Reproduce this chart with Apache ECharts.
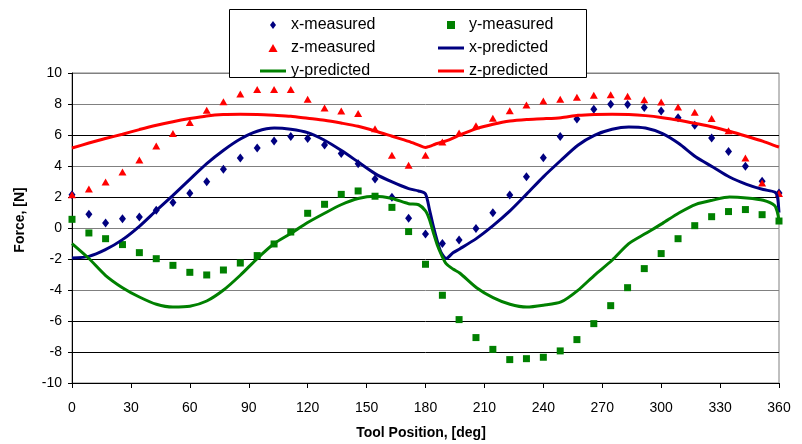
<!DOCTYPE html>
<html>
<head>
<meta charset="utf-8">
<script src="https://cdn.jsdelivr.net/npm/echarts@6/dist/echarts.min.js"></script>
<style>html,body{margin:0;padding:0;background:#fff}#c{width:802px;height:444px}</style>
</head>
<body>
<div id="c"></div>
<script>
// ---- data ----
var measAngles = [0, 8.6, 17.1, 25.7, 34.3, 42.9, 51.4, 60, 68.6, 77.1, 85.7, 94.3, 102.9, 111.4, 120, 128.6, 137.1, 145.7, 154.3, 162.9, 171.4, 180, 188.6, 197.1, 205.7, 214.3, 222.9, 231.4, 240, 248.6, 257.1, 265.7, 274.3, 282.9, 291.4, 300, 308.6, 317.1, 325.7, 334.3, 342.9, 351.4, 360];
var xMeasured = [2.15, 0.88, 0.32, 0.6, 0.71, 1.14, 1.64, 2.24, 2.99, 3.79, 4.52, 5.16, 5.61, 5.9, 5.78, 5.36, 4.8, 4.15, 3.16, 1.98, 0.63, -0.39, -1.0, -0.77, -0.04, 0.98, 2.13, 3.31, 4.54, 5.9, 7.03, 7.66, 7.98, 7.96, 7.77, 7.55, 7.12, 6.63, 5.81, 4.93, 3.98, 3.01, 2.26];
var yMeasured = [0.56, -0.32, -0.69, -1.07, -1.59, -1.98, -2.41, -2.86, -3.03, -2.71, -2.26, -1.78, -1.03, -0.26, 0.95, 1.53, 2.17, 2.39, 2.05, 1.33, -0.23, -2.34, -4.34, -5.91, -7.07, -7.83, -8.49, -8.43, -8.34, -7.93, -7.2, -6.17, -5.01, -3.85, -2.62, -1.65, -0.69, 0.15, 0.73, 1.06, 1.19, 0.86, 0.45];
var zMeasured = [2.15, 2.52, 2.97, 3.61, 4.39, 5.29, 6.09, 6.8, 7.59, 8.15, 8.65, 8.93, 8.93, 8.93, 8.3, 7.74, 7.55, 7.38, 6.41, 4.69, 4.05, 4.69, 5.55, 6.13, 6.6, 7.08, 7.57, 7.94, 8.19, 8.3, 8.43, 8.56, 8.6, 8.5, 8.28, 8.13, 7.81, 7.46, 7.06, 6.28, 4.52, 2.9, 2.22];

var predAngles = [0, 8.6, 17, 25.7, 34.3, 43, 51.4, 60, 68.6, 77, 85.7, 94.3, 103, 111.4, 120, 128.6, 137, 145.7, 154.3, 163, 171.4, 176.5, 180, 182, 184, 186, 188, 190.5, 194, 197.4, 206, 214.4, 223, 231.6, 240, 249, 257.6, 266, 275, 283.5, 292, 300.7, 309, 317.7, 326.3, 334.8, 343.5, 352, 357.8, 359.2, 360];
var xPredicted = [-1.94, -1.83, -1.4, -0.75, 0.11, 1.14, 2.11, 3.14, 4.15, 5.0, 5.74, 6.24, 6.45, 6.37, 6.15, 5.66, 5.01, 4.26, 3.51, 2.97, 2.54, 2.39, 2.2, 1.2, 0.1, -0.85, -1.6, -1.97, -1.6, -1.35, -0.67, 0.15, 1.1, 2.2, 3.3, 4.37, 5.34, 5.98, 6.37, 6.52, 6.45, 6.09, 5.45, 4.58, 3.94, 3.29, 2.82, 2.48, 2.32, 2.0, 1.0];
var yPredicted = [-1.01, -1.97, -3.05, -3.85, -4.45, -4.92, -5.1, -5.05, -4.71, -4.02, -3.05, -1.97, -1.0, -0.35, 0.35, 0.95, 1.5, 1.9, 2.05, 1.9, 1.57, 1.5, 1.1, 0.55, -0.3, -1.1, -1.7, -2.3, -2.65, -2.9, -3.85, -4.49, -4.92, -5.1, -4.98, -4.77, -4.02, -3.05, -2.08, -1.01, -0.36, 0.3, 0.97, 1.53, 1.8, 2.0, 1.94, 1.79, 1.45, 1.0, 0.5];
var zPredicted = [5.16, 5.48, 5.77, 6.05, 6.35, 6.63, 6.86, 7.06, 7.23, 7.32, 7.34, 7.32, 7.27, 7.21, 7.08, 6.95, 6.77, 6.56, 6.26, 5.92, 5.59, 5.35, 5.19, 5.27, 5.36, 5.45, 5.53, 5.62, 5.8, 6.0, 6.41, 6.69, 6.9, 7.0, 7.05, 7.12, 7.27, 7.33, 7.34, 7.32, 7.25, 7.12, 6.95, 6.74, 6.52, 6.24, 5.92, 5.59, 5.32, 5.26, 5.23];

var xTicks = {min: 0, max: 360, interval: 30};
var yTicks = {min: -10, max: 10, interval: 2};

function pairs(xs, ys) { return xs.map(function (x, i) { return [x, ys[i]]; }); }

var FONT = 'Liberation Sans, Arial, sans-serif';
var chart = echarts.init(document.getElementById('c'), null, {renderer: 'canvas'});

var gridColors = ['#000', '#000', '#000', '#808080', '#000', '#808080', '#000', '#808080', '#000', '#808080', '#808080'];

var ICON_DIAMOND = 'path://M3,0 L6,4 L3,8 L0,4 Z';
var ICON_SQUARE = 'path://M0,0 L7,0 L7,7 L0,7 Z';
var ICON_TRIANGLE = 'path://M4,0 L8,7 L0,7 Z';
var ICON_LINE = 'path://M0,0 L26,0 L26,3 L0,3 Z';

var legendText = {fontFamily: FONT, fontSize: 16, color: '#000', lineHeight: 18};

chart.setOption({
  animation: false,
  backgroundColor: '#fff',
  textStyle: {fontFamily: FONT},
  grid: {left: 72, right: 23, top: 73, bottom: 61, containLabel: false, outerBoundsMode: 'none', show: true, borderColor: '#808080', borderWidth: 1, backgroundColor: 'transparent'},
  xAxis: {
    type: 'value', min: xTicks.min, max: xTicks.max, interval: xTicks.interval,
    name: 'Tool Position, [deg]', nameLocation: 'middle', nameGap: 43,
    nameTextStyle: {fontFamily: FONT, fontWeight: 'bold', fontSize: 14, color: '#000', padding: [0, 9, 0, 0]},
    axisLine: {show: true, onZero: false, lineStyle: {color: '#000', width: 1}},
    axisTick: {show: true, inside: false, length: 5, lineStyle: {color: '#000'}},
    axisLabel: {fontFamily: FONT, fontSize: 14, color: '#000', margin: 18},
    splitLine: {show: false}
  },
  yAxis: {
    type: 'value', min: yTicks.min, max: yTicks.max, interval: yTicks.interval,
    name: 'Force, [N]', nameLocation: 'middle', nameGap: 45,
    nameTextStyle: {fontFamily: FONT, fontWeight: 'bold', fontSize: 14, color: '#000', padding: [0, 0, 0, 16]},
    axisLine: {show: true, onZero: false, lineStyle: {color: '#000', width: 1}},
    axisTick: {show: true, inside: false, length: 4, lineStyle: {color: '#000'}},
    axisLabel: {fontFamily: FONT, fontSize: 14, color: '#000', margin: 10},
    splitLine: {show: true, lineStyle: {color: gridColors, width: 1}}
  },
  graphic: [{
    type: 'rect', z: 3,
    shape: {x: 229.5, y: 9.5, width: 357, height: 68},
    style: {fill: '#fff', stroke: '#000', lineWidth: 1}
  }],
  legend: [{
    orient: 'vertical', left: 260, top: 16, padding: 0, itemGap: 5, itemWidth: 26, itemHeight: 8,
    symbolKeepAspect: true, textStyle: legendText, z: 5,
    data: [{name: 'x-measured', icon: ICON_DIAMOND}, {name: 'z-measured', icon: ICON_TRIANGLE}, {name: 'y-predicted', icon: ICON_LINE}]
  }, {
    orient: 'vertical', left: 438, top: 16, padding: 0, itemGap: 5, itemWidth: 26, itemHeight: 8,
    symbolKeepAspect: true, textStyle: legendText, z: 5,
    data: [{name: 'y-measured', icon: ICON_SQUARE}, {name: 'x-predicted', icon: ICON_LINE}, {name: 'z-predicted', icon: ICON_LINE}]
  }],
  series: [
    {name: 'x-measured', type: 'scatter', symbol: 'diamond', symbolSize: [7, 9], itemStyle: {color: '#000080', opacity: 1}, data: pairs(measAngles, xMeasured)},
    {name: 'y-measured', type: 'scatter', symbol: 'rect', symbolSize: 7, itemStyle: {color: '#008000', opacity: 1}, data: pairs(measAngles, yMeasured)},
    {name: 'z-measured', type: 'scatter', symbol: 'triangle', symbolSize: [8, 7], itemStyle: {color: '#ff0000', opacity: 1}, data: pairs(measAngles, zMeasured)},
    {name: 'x-predicted', type: 'line', symbol: 'none', showSymbol: false, smooth: 0.25, lineStyle: {color: '#000080', width: 3}, itemStyle: {color: '#000080'}, data: pairs(predAngles, xPredicted)},
    {name: 'y-predicted', type: 'line', symbol: 'none', showSymbol: false, smooth: 0.25, lineStyle: {color: '#008000', width: 3}, itemStyle: {color: '#008000'}, data: pairs(predAngles, yPredicted)},
    {name: 'z-predicted', type: 'line', symbol: 'none', showSymbol: false, smooth: 0.25, lineStyle: {color: '#ff0000', width: 3}, itemStyle: {color: '#ff0000'}, data: pairs(predAngles, zPredicted)}
  ]
});
</script>
</body>
</html>
